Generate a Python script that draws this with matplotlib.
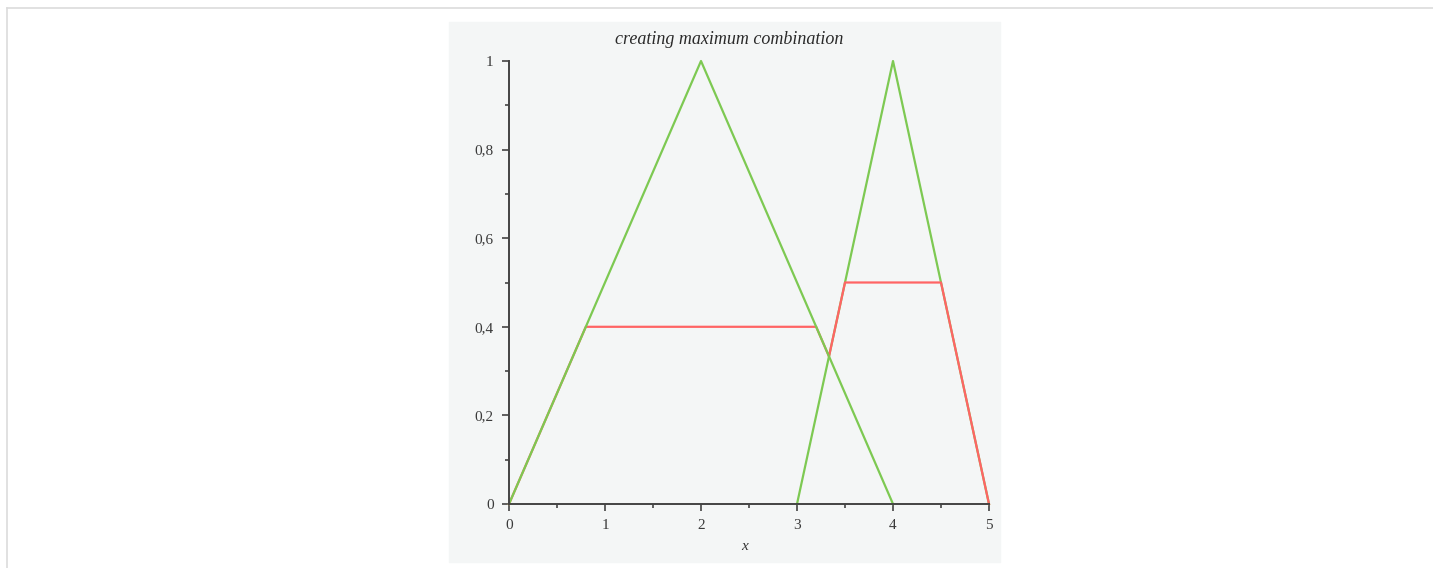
import matplotlib.pyplot as plt
from matplotlib.patches import Rectangle
from matplotlib.lines import Line2D

# membership functions (green) and their clipped max combination (red)
tri1_x = [0, 2, 4]
tri1_y = [0, 1, 0]
tri2_x = [3, 4, 5]
tri2_y = [0, 1, 0]
comb_x = [0, 0.8, 3.2, 3.333, 3.5, 4.5, 5]
comb_y = [0, 0.4, 0.4, 0.333, 0.5, 0.5, 0]

xticks = [0, 1, 2, 3, 4, 5]
xlabels = ['0', '1', '2', '3', '4', '5']
yticks = [0, 0.2, 0.4, 0.6, 0.8, 1]
ylabels = ['0', '0,2', '0,4', '0,6', '0,8', '1']

green = '#7dc952'
red = '#ff6464'

fig = plt.figure(figsize=(14.33, 5.68), dpi=100)
W, H = 1433, 568

# page frame lines and grey panel
fig.add_artist(Line2D([7/W, 1], [1 - 7.5/H, 1 - 7.5/H], color='#dcdcdc', lw=1.2))
fig.add_artist(Line2D([7/W, 7/W], [0, 1 - 7.5/H], color='#dcdcdc', lw=1.2))
fig.add_artist(Rectangle((449/W, 1 - 562/H), 551/W, 540/H, color='#f4f6f6', zorder=0))

ax = fig.add_axes([509/W, 1 - 504/H, 480/W, 443/H])
ax.patch.set_visible(False)
ax.plot(tri2_x, tri2_y, color=green, lw=1.6, clip_on=False)
ax.plot(comb_x, comb_y, color=red, lw=1.6, clip_on=False)
ax.plot(tri1_x, tri1_y, color=green, lw=1.6, clip_on=False)

ax.set_xlim(0, 5)
ax.set_ylim(0, 1)
for s in ['top', 'right']:
    ax.spines[s].set_visible(False)
for s in ['left', 'bottom']:
    ax.spines[s].set_color('#444444')
    ax.spines[s].set_linewidth(1.4)

ax.set_xticks(xticks)
ax.set_xticklabels(xlabels)
ax.set_yticks(yticks)
ax.set_yticklabels(ylabels)
ax.set_xticks([0.5, 1.5, 2.5, 3.5, 4.5], minor=True)
ax.set_yticks([0.1, 0.3, 0.5, 0.7, 0.9], minor=True)
ax.tick_params(which='major', length=5, width=1.2, color='#444444',
               labelsize=11, labelcolor='#3a3a3a', pad=6)
ax.tick_params(which='minor', length=3, width=1.2, color='#444444')
for lab in ax.get_xticklabels() + ax.get_yticklabels():
    lab.set_family('Liberation Serif')

fig.text(729/W, 1 - 40/H, 'creating maximum combination', ha='center', va='center',
         family='Liberation Serif', style='italic', fontsize=13, color='#2a2a2a')
fig.text(745/W, 1 - 546/H, 'x', ha='center', va='center',
         family='Liberation Serif', style='italic', fontsize=11, color='#333333')

plt.savefig('out.png', dpi=100)
